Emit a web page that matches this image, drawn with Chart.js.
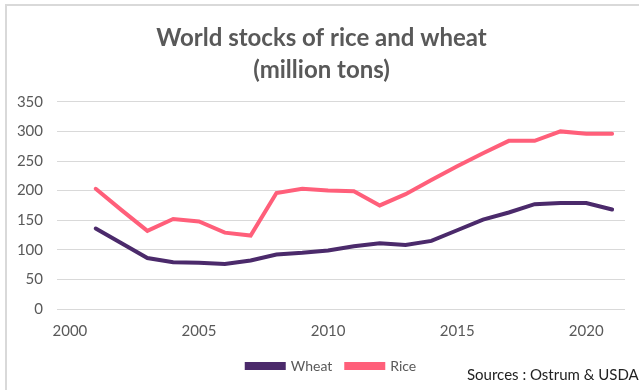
<!DOCTYPE html>
<html>
<head>
<meta charset="utf-8">
<script src="https://cdn.jsdelivr.net/npm/chart.js@4"></script>
<style>
body { margin: 0; background: #fff; }
#wrap { position: relative; width: 639px; height: 390px; overflow: hidden; }
#frame { position: absolute; left: 5px; top: 4px; width: 700px; height: 500px;
  border-left: 2px solid #d9d9d9; border-top: 2px solid #d9d9d9; }
#src { position: absolute; left: 467px; top: 365px; font: 15px Lato, sans-serif; color: #222; white-space: nowrap; }
canvas { position: absolute; left: 0; top: 0; }
</style>
</head>
<body>
<div id="wrap">
  <div id="frame"></div>
  <canvas id="js--chart--1" width="639" height="390"></canvas>
  <div id="src">Sources : Ostrum &amp; USDA</div>
</div>
<script>
const years = [2001, 2002, 2003, 2004, 2005, 2006, 2007, 2008, 2009, 2010, 2011,
    2012, 2013, 2014, 2015, 2016, 2017, 2018, 2019, 2020, 2021];

const wheat = [136, 111, 86, 79, 78, 76, 82, 92, 95, 99, 106,
    111, 108, 115, 133, 151, 163, 177, 179, 179, 168];

const rice = [203, 167, 132, 152, 148, 129, 124, 196, 203, 200, 199,
    175, 194, 218, 241, 263, 284, 284, 300, 296, 296];

const xTicks = [2000, 2005, 2010, 2015, 2020];

const grey = "#595959";

function points(values){
    return years.map(function(y, i){ return {x: y, y: values[i]}; });
}

// nudge legend and title a bit to the right, like in the original
const blockShift = {
    id: "blockShift",
    afterLayout: function(chart){
        chart.legend.left += 19;
        chart.legend.right += 19;
        chart.titleBlock.left += 9;
        chart.titleBlock.right += 9;
    }
};

const data = {
    datasets: [
        {
            label: "Wheat",
            data: points(wheat),
            borderColor: "#4B2A6B",
            backgroundColor: "#4B2A6B",
            borderWidth: 4,
            pointRadius: 0,
            borderCapStyle: "round",
            tension: 0
        },
        {
            label: "Rice",
            data: points(rice),
            borderColor: "#FF5F7A",
            backgroundColor: "#FF5F7A",
            borderWidth: 4,
            pointRadius: 0,
            borderCapStyle: "round",
            tension: 0
        }
    ]
};

const config = {
    type: "line",
    data: data,
    plugins: [blockShift],
    options: {
        responsive: false,
        animation: false,
        layout: { padding: { left: 0, right: 14, top: 8, bottom: 7 } },
        plugins: {
            title: {
                display: true,
                text: ["World stocks of rice and wheat", "(million tons)"],
                color: grey,
                font: { family: "Lato", size: 24, weight: "bold", lineHeight: 1.35 },
                padding: { top: 14, bottom: 15 }
            },
            legend: {
                position: "bottom",
                labels: {
                    color: grey,
                    font: { family: "Lato", size: 14 },
                    boxWidth: 37,
                    boxHeight: 4,
                    padding: 14
                }
            },
            tooltip: { enabled: false }
        },
        scales: {
            x: {
                type: "linear",
                min: 1999.5,
                max: 2021.5,
                afterBuildTicks: function(scale){
                    scale.ticks = xTicks.map(function(v){ return {value: v}; });
                },
                grid: { display: false },
                border: { display: false },
                ticks: {
                    color: grey,
                    font: { family: "Lato", size: 15 },
                    maxRotation: 0,
                    padding: 5,
                    callback: function(v){ return String(v); }
                }
            },
            y: {
                min: 0,
                max: 350,
                afterFit: function(scale){ scale.width = 57; },
                grid: { color: "#d9d9d9", lineWidth: 1, drawTicks: false },
                border: { display: false },
                ticks: {
                    stepSize: 50,
                    color: grey,
                    font: { family: "Lato", size: 15 },
                    padding: 14
                }
            }
        }
    }
};

const chart1 = new Chart(document.getElementById("js--chart--1"), config);
</script>
</body>
</html>
